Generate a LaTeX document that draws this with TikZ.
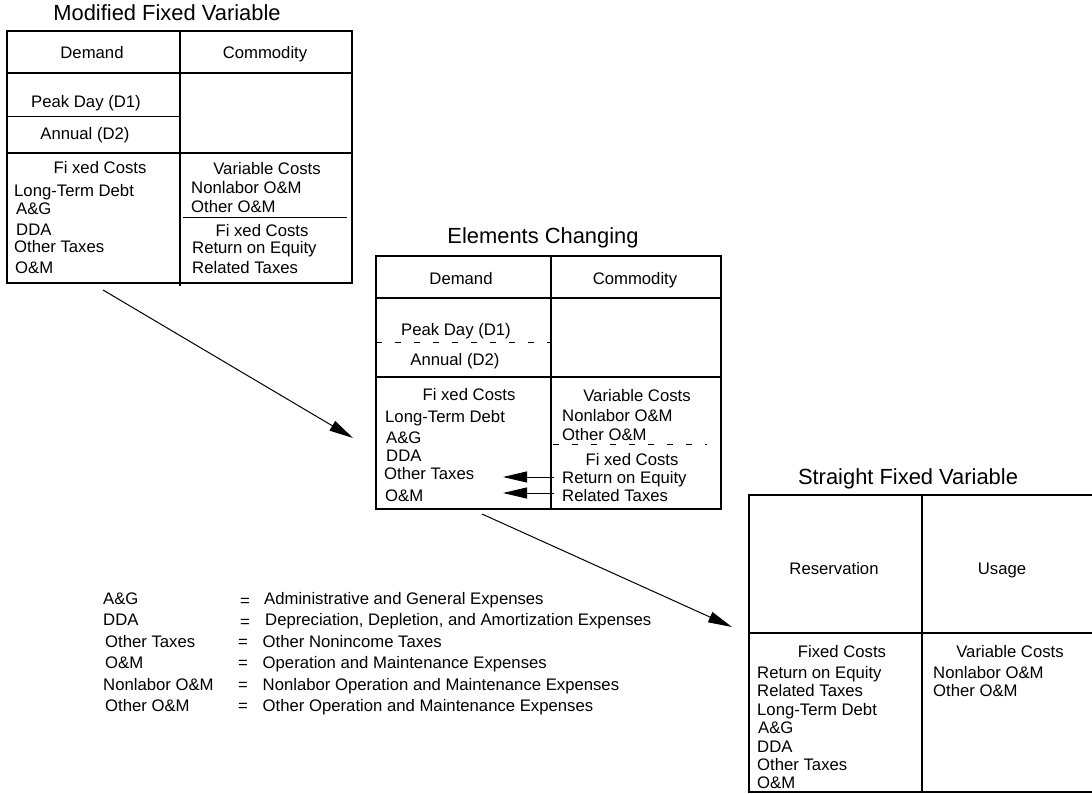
\documentclass[tikz,border=0pt]{standalone}
\usepackage{fontspec}
\setmainfont{Liberation Sans}
\usetikzlibrary{arrows.meta}
\newcommand\bodyfs{\fontsize{16.7}{19}\selectfont}
\newcommand\titlefs{\fontsize{21.9}{24}\selectfont}
\tikzset{
  lt/.style={font=\bodyfs, inner sep=0pt, anchor=base west},
  ct/.style={font=\bodyfs, inner sep=0pt, anchor=base},
  tt/.style={font=\titlefs, inner sep=0pt, anchor=base},
  frame/.style={line width=2.7pt},
  midline/.style={line width=2pt},
  thinline/.style={line width=1pt},
  dashline/.style={line width=1pt, dash pattern=on 6pt off 13pt},
  arr/.style={line width=1pt, -{Triangle[length=24pt,width=11pt]}},
}
\begin{document}
\begin{tikzpicture}[x=1pt,y=-1pt]
\useasboundingbox (0,0) rectangle (1092,794);

% ---------- Table 1: Modified Fixed Variable ----------
\node[tt] (t1title) at (167,21) {Modified Fixed Variable};
\draw[frame] (7,31) rectangle (352,283);
\draw[midline] (180,31) -- (180,286);
\draw[frame] (7,73) -- (352,73);
\draw[frame] (7,153) -- (352,153);
\draw[thinline] (7,117) -- (180,117);
\draw[thinline] (183,218) -- (347,218);
\node[ct] (t1dem) at (92,59) {Demand};
\node[ct] (t1com) at (265,59) {Commodity};
\node[ct] (t1pk) at (86,108) {Peak Day (D1)};
\node[ct] (t1an) at (85,140) {Annual (D2)};
\node[ct] (t1fc) at (100,174) {Fi xed Costs};
\node[lt] (t1ltd) at (14,197) {Long-Term Debt};
\node[lt] (t1ag) at (16,215) {A\&G};
\node[lt] (t1dda) at (16,236) {DDA};
\node[lt] (t1ot) at (14,253) {Other Taxes};
\node[lt] (t1om) at (15,274) {O\&M};
\node[ct] (t1vc) at (267,175) {Variable Costs};
\node[lt] (t1nl) at (191,194) {Nonlabor O\&M};
\node[lt] (t1oom) at (191,213) {Other O\&M};
\node[ct] (t1fc2) at (262,237) {Fi xed Costs};
\node[lt] (t1roe) at (192,254) {Return on Equity};
\node[lt] (t1rt) at (192,273) {Related Taxes};

% ---------- Table 2: Elements Changing ----------
\node[tt] (t2title) at (543,244) {Elements Changing};
\draw[frame] (376,256) rectangle (721,509);
\draw[midline] (551,256) -- (551,509);
\draw[frame] (376,298) -- (721,298);
\draw[frame] (376,377) -- (721,377);
\draw[dashline] (376,342) -- (551,342);
\draw[dashline] (553,444) -- (707,444);
\node[ct] (t2dem) at (461,285) {Demand};
\node[ct] (t2com) at (635,285) {Commodity};
\node[ct] (t2pk) at (456,335) {Peak Day (D1)};
\node[ct] (t2an) at (455,365) {Annual (D2)};
\node[ct] (t2fc) at (469,400) {Fi xed Costs};
\node[lt] (t2ltd) at (385,422) {Long-Term Debt};
\node[lt] (t2ag) at (386,443) {A\&G};
\node[lt] (t2dda) at (386,461) {DDA};
\node[lt] (t2ot) at (384,479) {Other Taxes};
\node[lt] (t2om) at (385,501) {O\&M};
\node[ct] (t2vc) at (637,401) {Variable Costs};
\node[lt] (t2nl) at (562,421) {Nonlabor O\&M};
\node[lt] (t2oom) at (562,440) {Other O\&M};
\node[ct] (t2fc2) at (632,465) {Fi xed Costs};
\node[lt] (t2roe) at (562,483) {Return on Equity};
\node[lt] (t2rt) at (562,501) {Related Taxes};
\coordinate (s1) at (554,477);
\coordinate (e1) at (503,477);
\coordinate (s2) at (554,493);
\coordinate (e2) at (503,493);
\draw[arr] (s1) -- (e1);
\draw[arr] (s2) -- (e2);

% ---------- Table 3: Straight Fixed Variable ----------
\node[tt] (t3title) at (908,484) {Straight Fixed Variable};
\draw[frame] (1094,495) -- (749,495) -- (749,792) -- (1094,792);
\draw[midline] (922,495) -- (922,792);
\draw[frame] (749,633) -- (1094,633);
\node[ct] (t3res) at (834,574) {Reservation};
\node[ct] (t3use) at (1002,574) {Usage};
\node[ct] (t3fc) at (842,657) {Fixed Costs};
\node[lt] (t3roe) at (757,678) {Return on Equity};
\node[lt] (t3rt) at (757,696) {Related Taxes};
\node[lt] (t3ltd) at (757,715) {Long-Term Debt};
\node[lt] (t3ag) at (758,733) {A\&G};
\node[lt] (t3dda) at (757,752) {DDA};
\node[lt] (t3ot) at (757,770) {Other Taxes};
\node[lt] (t3om) at (757,788) {O\&M};
\node[ct] (t3vc) at (1010,657) {Variable Costs};
\node[lt] (t3nl) at (933,678) {Nonlabor O\&M};
\node[lt] (t3oom) at (933,696) {Other O\&M};

% ---------- Arrows between tables ----------
\coordinate (a1s) at (103,290);
\coordinate (a1e) at (353,438);
\coordinate (a2s) at (482,514);
\coordinate (a2e) at (732,627);
\draw[arr] (a1s) -- (a1e);
\draw[arr] (a2s) -- (a2e);

% ---------- Legend ----------
\node[lt] (g1a) at (103,604) {A\&G};
\node[ct] (g1b) at (245,606) {=};
\node[lt] (g1c) at (264,604) {Administrative and General Expenses};
\node[lt] (g2a) at (103,625.5) {DDA};
\node[ct] (g2b) at (245,627.5) {=};
\node[lt] (g2c) at (265,625.5) {Depreciation, Depletion, and Amortization Expenses};
\node[lt] (g3a) at (105,647) {Other Taxes};
\node[ct] (g3b) at (243,647) {=};
\node[lt] (g3c) at (262.5,647) {Other Nonincome Taxes};
\node[lt] (g4a) at (105,668.5) {O\&M};
\node[ct] (g4b) at (243,668.5) {=};
\node[lt] (g4c) at (262.5,668.5) {Operation and Maintenance Expenses};
\node[lt] (g5a) at (103,690) {Nonlabor O\&M};
\node[ct] (g5b) at (243,690) {=};
\node[lt] (g5c) at (262.5,690) {Nonlabor Operation and Maintenance Expenses};
\node[lt] (g6a) at (105,711.5) {Other O\&M};
\node[ct] (g6b) at (243,711.5) {=};
\node[lt] (g6c) at (262.5,711.5) {Other Operation and Maintenance Expenses};
\end{tikzpicture}
\end{document}
